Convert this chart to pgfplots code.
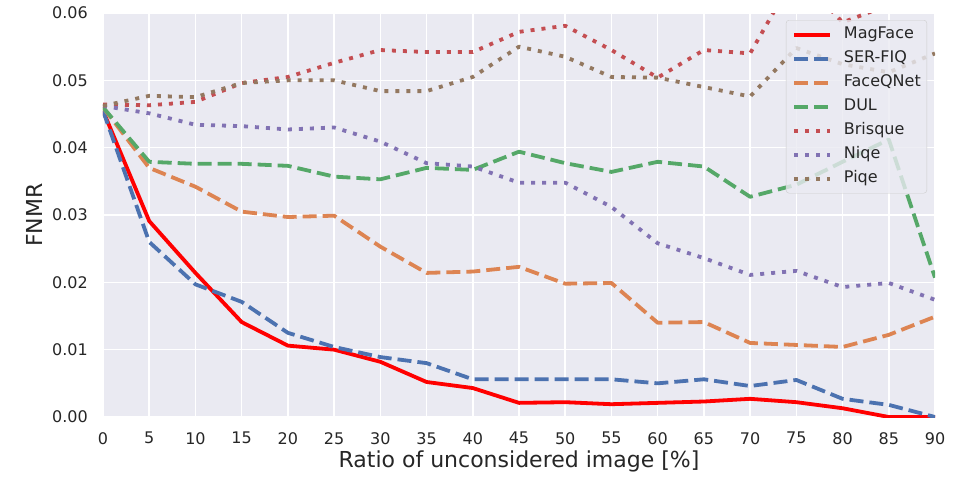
\documentclass[border=0pt]{standalone}
\usepackage{fontspec}
\setmainfont{DejaVu Sans}
\usepackage{pgfplots}
\pgfplotsset{compat=1.18}
\definecolor{sbbg}{HTML}{EAEAF2}
\definecolor{sbblue}{HTML}{4C72B0}
\definecolor{sborange}{HTML}{DD8452}
\definecolor{sbgreen}{HTML}{55A868}
\definecolor{sbred}{HTML}{C44E52}
\definecolor{sbpurple}{HTML}{8172B3}
\definecolor{sbbrown}{HTML}{937860}
\definecolor{txt}{HTML}{262626}
\definecolor{legedge}{HTML}{CCCCCC}
\begin{document}
\begin{tikzpicture}
\useasboundingbox (-103pt,-62pt) rectangle (863pt,417pt);
\begin{axis}[
  at={(0pt,0pt)}, anchor=south west,
  scale only axis, width=832pt, height=404pt,
  xmin=0, xmax=90, ymin=0, ymax=0.06,
  xtick={0,5,10,15,20,25,30,35,40,45,50,55,60,65,70,75,80,85,90},
  ytick={0,0.01,0.02,0.03,0.04,0.05,0.06},
  yticklabels={0.00,0.01,0.02,0.03,0.04,0.05,0.06},
  scaled y ticks=false, scaled x ticks=false,
  /pgf/number format/assume math mode=true,
  axis background/.style={fill=sbbg},
  axis line style={draw=none},
  major tick length=0pt,
  grid=major,
  grid style={white, line width=1.5pt},
  ticklabel style={font=\fontsize{16}{19}\selectfont, text=txt},
  yticklabel style={anchor=east, inner sep=0pt, xshift=-15pt},
  xticklabel style={anchor=north, inner sep=0pt, yshift=-15pt},
  every axis x label/.style={at={(axis description cs:0.5,0)}, anchor=base, yshift=-50pt, font=\fontsize{22}{26}\selectfont, text=txt},
  every axis y label/.style={at={(axis description cs:0,0.5)}, xshift=-69pt, rotate=90, anchor=center, font=\fontsize{22}{26}\selectfont, text=txt},
  xlabel={Ratio of unconsidered image [\%]},
  ylabel={FNMR},
  legend cell align=left,
  legend image code/.code={\draw[#1] (0pt,0pt) -- (36pt,0pt);},
  legend style={at={(1,1)}, anchor=north east, xshift=-8pt, yshift=-7pt,
    fill=sbbg, fill opacity=0.8, text opacity=1, draw=legedge, rounded corners=3pt,
    font=\fontsize{16}{19}\selectfont, text=txt,
    inner xsep=6pt, inner ysep=6.5pt, row sep=8pt, column sep=12pt,
    nodes={inner sep=0pt, text height=12pt, text depth=4pt}},
  every axis plot/.append style={line width=3.8pt, line join=round},
]
\addplot[color=red, solid] coordinates {(0,0.0455)(5,0.0291)(10,0.0214)(15,0.0141)(20,0.0106)(25,0.0100)(30,0.0082)(35,0.0052)(40,0.0043)(45,0.0021)(50,0.0022)(55,0.0019)(60,0.0021)(65,0.0023)(70,0.0027)(75,0.0022)(80,0.0013)(85,0.0000)(90,0.0000)};
\addlegendentry{MagFace}
\addplot[color=sbblue, dash pattern=on 14pt off 6pt] coordinates {(0,0.0455)(5,0.0260)(10,0.0197)(15,0.0171)(20,0.0125)(25,0.0104)(30,0.0089)(35,0.0080)(40,0.0056)(45,0.0056)(50,0.0056)(55,0.0056)(60,0.0050)(65,0.0056)(70,0.0046)(75,0.0055)(80,0.0027)(85,0.0018)(90,0.0000)};
\addlegendentry{SER-FIQ}
\addplot[color=sborange, dash pattern=on 14pt off 6pt] coordinates {(0,0.0460)(5,0.0370)(10,0.0342)(15,0.0305)(20,0.0297)(25,0.0299)(30,0.0253)(35,0.0214)(40,0.0216)(45,0.0223)(50,0.0198)(55,0.0199)(60,0.0140)(65,0.0141)(70,0.0110)(75,0.0107)(80,0.0104)(85,0.0122)(90,0.0149)};
\addlegendentry{FaceQNet}
\addplot[color=sbgreen, dash pattern=on 14pt off 6pt] coordinates {(0,0.0460)(5,0.0379)(10,0.0376)(15,0.0376)(20,0.0373)(25,0.0357)(30,0.0353)(35,0.0370)(40,0.0367)(45,0.0394)(50,0.0377)(55,0.0364)(60,0.0379)(65,0.0372)(70,0.0327)(75,0.0345)(80,0.0379)(85,0.0412)(90,0.0207)};
\addlegendentry{DUL}
\addplot[color=sbred, dash pattern=on 4pt off 7pt] coordinates {(0,0.0464)(5,0.0463)(10,0.0468)(15,0.0496)(20,0.0505)(25,0.0526)(30,0.0545)(35,0.0542)(40,0.0542)(45,0.0572)(50,0.0581)(55,0.0545)(60,0.0504)(65,0.0545)(70,0.0540)(75,0.0660)(80,0.0586)(85,0.0612)(90,0.0625)};
\addlegendentry{Brisque}
\addplot[color=sbpurple, dash pattern=on 4pt off 7pt] coordinates {(0,0.0462)(5,0.0451)(10,0.0434)(15,0.0432)(20,0.0427)(25,0.0430)(30,0.0409)(35,0.0377)(40,0.0372)(45,0.0348)(50,0.0348)(55,0.0312)(60,0.0258)(65,0.0236)(70,0.0211)(75,0.0217)(80,0.0193)(85,0.0199)(90,0.0174)};
\addlegendentry{Niqe}
\addplot[color=sbbrown, dash pattern=on 4pt off 7pt] coordinates {(0,0.0462)(5,0.0477)(10,0.0475)(15,0.0496)(20,0.0500)(25,0.0500)(30,0.0484)(35,0.0484)(40,0.0505)(45,0.0550)(50,0.0535)(55,0.0505)(60,0.0504)(65,0.0490)(70,0.0476)(75,0.0548)(80,0.0524)(85,0.0512)(90,0.0540)};
\addlegendentry{Piqe}
\end{axis}
\end{tikzpicture}
\end{document}
